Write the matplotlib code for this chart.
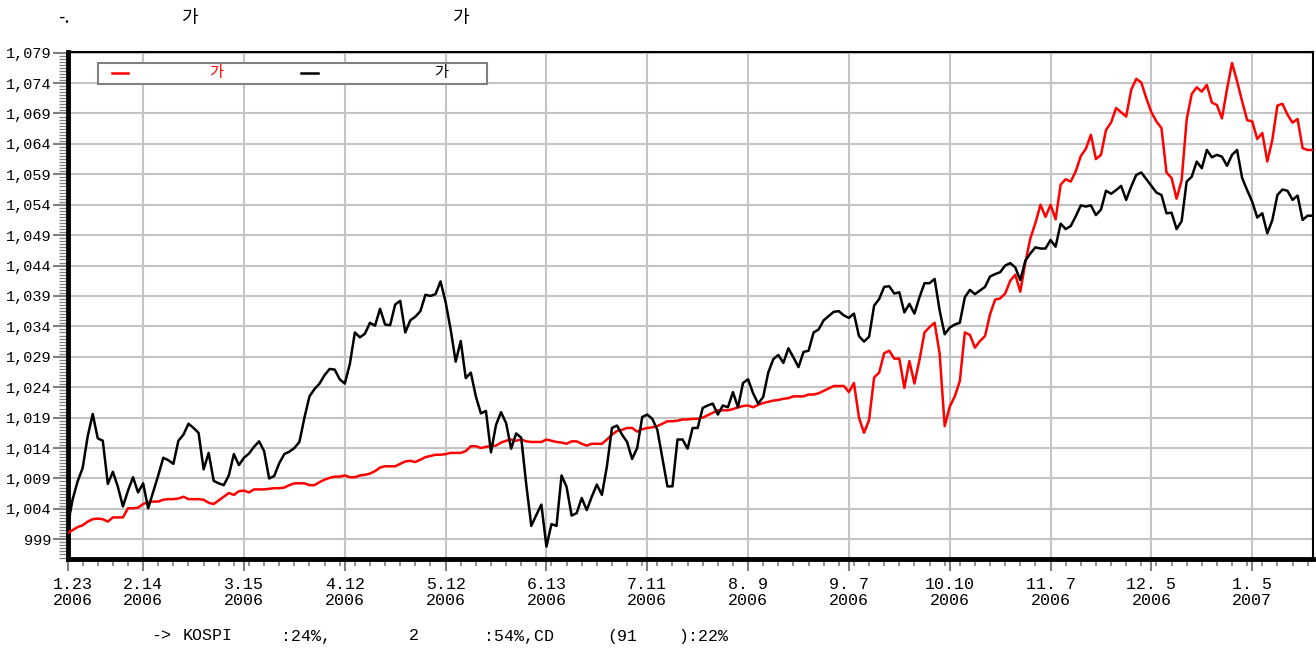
import matplotlib
matplotlib.use('Agg')
import matplotlib.pyplot as plt
from matplotlib import font_manager
from matplotlib.ticker import FixedLocator, MultipleLocator, FuncFormatter
from matplotlib.patches import Rectangle
from matplotlib.lines import Line2D
from matplotlib.transforms import ScaledTranslation
import numpy as np

# benchmark index (red) and fund (black), daily, 2006-01-23 .. 2007-01
red_vals = [
    1000.0, 1000.5, 1001.0, 1001.3, 1001.9, 1002.3, 1002.4, 1002.3, 1001.9, 1002.6,
    1002.6, 1002.6, 1004.1, 1004.1, 1004.2, 1004.8, 1005.1, 1005.2, 1005.2, 1005.5,
    1005.6, 1005.6, 1005.7, 1006.0, 1005.6, 1005.6, 1005.6, 1005.5, 1005.0, 1004.8,
    1005.4, 1006.0, 1006.6, 1006.3, 1006.9, 1007.0, 1006.7, 1007.2, 1007.2, 1007.2,
    1007.3, 1007.4, 1007.4, 1007.5, 1007.9, 1008.2, 1008.2, 1008.2, 1007.9, 1007.9,
    1008.4, 1008.8, 1009.1, 1009.3, 1009.3, 1009.5, 1009.2, 1009.2, 1009.5, 1009.6,
    1009.8, 1010.2, 1010.8, 1011.0, 1011.0, 1011.0, 1011.4, 1011.8, 1011.9, 1011.7,
    1012.1, 1012.5, 1012.7, 1012.9, 1012.9, 1013.0, 1013.2, 1013.2, 1013.2, 1013.5,
    1014.3, 1014.3, 1014.0, 1014.2, 1014.3, 1014.4, 1014.9, 1015.2, 1015.4, 1015.2,
    1015.4, 1015.1, 1015.0, 1015.0, 1015.0, 1015.4, 1015.2, 1015.0, 1014.9, 1014.7,
    1015.1, 1015.1, 1014.7, 1014.4, 1014.7, 1014.7, 1014.7, 1015.4, 1016.2, 1016.8,
    1017.0, 1017.3, 1017.3, 1016.7, 1017.1, 1017.3, 1017.4, 1017.6, 1018.0, 1018.4,
    1018.4, 1018.5, 1018.7, 1018.7, 1018.8, 1018.8, 1019.0, 1019.4, 1019.8, 1020.2,
    1020.2, 1020.2, 1020.4, 1020.7, 1020.9, 1021.0, 1020.7, 1021.1, 1021.4, 1021.6,
    1021.8, 1021.9, 1022.1, 1022.2, 1022.5, 1022.5, 1022.5, 1022.8, 1022.8, 1023.0,
    1023.4, 1023.8, 1024.2, 1024.2, 1024.2, 1023.2, 1024.7, 1019.0, 1016.5, 1018.6,
    1025.6, 1026.4, 1029.6, 1030.0, 1028.7, 1028.7, 1023.9, 1028.3, 1024.6, 1028.5,
    1033.0, 1033.9, 1034.6, 1029.5, 1017.6, 1020.8, 1022.5, 1025.0, 1033.0, 1032.6,
    1030.5, 1031.6, 1032.4, 1036.0, 1038.4, 1038.6, 1039.4, 1041.5, 1042.5, 1039.7,
    1044.5, 1048.5, 1051.0, 1054.0, 1052.0, 1054.0, 1051.6, 1057.3, 1058.2, 1057.8,
    1059.5, 1062.0, 1063.2, 1065.5, 1061.5, 1062.2, 1066.3, 1067.5, 1069.9, 1069.2,
    1068.5, 1072.9, 1074.7, 1074.1, 1071.5, 1069.2, 1067.7, 1066.6, 1059.3, 1058.4,
    1055.0, 1058.0, 1068.0, 1072.2, 1073.3, 1072.6, 1073.7, 1070.8, 1070.4, 1068.2,
    1073.0, 1077.3, 1074.3, 1071.0, 1067.9, 1067.7, 1064.8, 1065.8, 1061.1, 1064.7,
    1070.3, 1070.6, 1068.8, 1067.5, 1068.1, 1063.3, 1063.0, 1063.0,
]

black_vals = [
    1001.0, 1005.5, 1008.5, 1010.7, 1015.9, 1019.6, 1015.6, 1015.2, 1008.1, 1010.1,
    1007.6, 1004.4, 1007.0, 1009.2, 1006.7, 1008.2, 1004.1, 1006.8, 1009.5, 1012.4,
    1012.0, 1011.4, 1015.2, 1016.2, 1018.0, 1017.3, 1016.5, 1010.5, 1013.2, 1008.6,
    1008.2, 1007.9, 1009.5, 1013.0, 1011.2, 1012.4, 1013.1, 1014.2, 1015.1, 1013.5,
    1009.0, 1009.4, 1011.5, 1013.0, 1013.4, 1014.0, 1015.0, 1019.0, 1022.5, 1023.7,
    1024.6, 1026.0, 1027.0, 1026.9, 1025.3, 1024.6, 1027.8, 1033.0, 1032.2, 1032.8,
    1034.6, 1034.1, 1036.9, 1034.3, 1034.2, 1037.6, 1038.2, 1033.0, 1035.0, 1035.6,
    1036.5, 1039.2, 1039.0, 1039.3, 1041.4, 1038.0, 1033.5, 1028.2, 1031.6, 1025.5,
    1026.4, 1022.5, 1019.7, 1020.1, 1013.3, 1017.8, 1019.9, 1018.1, 1013.9, 1016.4,
    1015.7, 1008.0, 1001.2, 1003.0, 1004.7, 997.8, 1001.5, 1001.2, 1009.5, 1007.6,
    1002.9, 1003.3, 1005.8, 1003.8, 1006.0, 1008.0, 1006.3, 1011.0, 1017.3, 1017.7,
    1016.2, 1015.0, 1012.2, 1014.0, 1019.1, 1019.5, 1018.8, 1017.0, 1012.4, 1007.7,
    1007.7, 1015.4, 1015.4, 1013.9, 1017.3, 1017.3, 1020.6, 1021.0, 1021.3, 1019.5,
    1021.0, 1020.7, 1023.2, 1020.7, 1024.7, 1025.3, 1023.0, 1021.3, 1022.4, 1026.4,
    1028.6, 1029.3, 1028.0, 1030.4, 1028.9, 1027.3, 1029.8, 1030.0, 1033.0, 1033.5,
    1035.0, 1035.7, 1036.4, 1036.5, 1035.8, 1035.4, 1036.1, 1032.4, 1031.5, 1032.3,
    1037.4, 1038.5, 1040.5, 1040.6, 1039.4, 1039.6, 1036.3, 1037.7, 1036.1, 1038.8,
    1041.1, 1041.1, 1041.8, 1036.6, 1032.7, 1033.8, 1034.3, 1034.6, 1038.8, 1040.0,
    1039.3, 1039.9, 1040.5, 1042.2, 1042.6, 1042.9, 1044.0, 1044.4, 1043.7, 1041.6,
    1044.8, 1046.0, 1047.0, 1046.8, 1046.8, 1048.2, 1047.1, 1050.9, 1050.0, 1050.5,
    1052.1, 1053.9, 1053.7, 1053.9, 1052.3, 1053.2, 1056.3, 1055.8, 1056.4, 1057.1,
    1054.8, 1057.0, 1058.9, 1059.3, 1058.2, 1057.1, 1056.0, 1055.6, 1052.6, 1052.7,
    1050.0, 1051.3, 1057.8, 1058.6, 1061.1, 1060.0, 1063.0, 1061.8, 1062.2, 1061.9,
    1060.4, 1062.2, 1063.0, 1058.4, 1056.4, 1054.5, 1051.9, 1052.6, 1049.3, 1051.5,
    1055.6, 1056.5, 1056.3, 1054.8, 1055.5, 1051.5, 1052.2, 1052.2,
]

# labelled trading days (index into the series) and their labels
tick_idx = [0, 15, 35, 55, 75, 95, 115, 135, 155, 175, 195, 215, 235]
tick_labels = ['1.23\n2006', '2.14\n2006', '3.15\n2006', '4.12\n2006', '5.12\n2006',
               '6.13\n2006', '7.11\n2006', '8. 9\n2006', '9. 7\n2006', '10.10\n2006',
               '11. 7\n2006', '12. 5\n2006', '1. 5\n2007']
y_ticks = list(range(999, 1080, 5))

installed = {f.name for f in font_manager.fontManager.ttflist}
num_font = 'Liberation Mono' if 'Liberation Mono' in installed else 'DejaVu Sans Mono'
kr_font = ['Noto Sans CJK KR', 'DejaVu Sans']

W, H = 1316, 653
fig = plt.figure(figsize=(W / 100, H / 100), dpi=100)
ax_l, ax_r, ax_t, ax_b = 67.5, 1312.7, 51.7, 558.5
ax = fig.add_axes([ax_l / W, 1 - ax_b / H, (ax_r - ax_l) / W, (ax_b - ax_t) / H])

x = np.arange(len(red_vals))
ax.plot(x, red_vals, color='#ff0000', lw=1.8, zorder=3)
ax.plot(x, black_vals, color='black', lw=1.8, zorder=3)

ax.set_xlim(0, len(red_vals) - 1)
ax.set_ylim(995.84, 1079.16)

ax.xaxis.set_major_locator(FixedLocator(tick_idx))
ax.set_xticklabels(tick_labels, fontfamily=num_font, fontsize=12, linespacing=1.1)
ax.xaxis.set_minor_locator(MultipleLocator(3))
ax.yaxis.set_major_locator(FixedLocator(y_ticks))
ax.yaxis.set_major_formatter(FuncFormatter(lambda v, p: '{:,.0f}'.format(v)))
ax.yaxis.set_minor_locator(MultipleLocator(0.5))
for lab in ax.get_yticklabels():
    lab.set_fontfamily(num_font)
    lab.set_fontsize(11)

ax.tick_params(axis='x', which='major', length=8.5, width=1.5, color='#808080', pad=5)
ax.tick_params(axis='x', which='minor', length=5, width=1.2, color='#808080')
ax.tick_params(axis='y', which='major', length=10.5, width=1.5, color='#808080', pad=1)
ax.tick_params(axis='y', which='minor', length=6.5, width=0.9, color='#808080')

# first date label sits a little right of its tick
first = ax.get_xticklabels()[0]
first.set_transform(first.get_transform() + ScaledTranslation(5 / 100, 0, fig.dpi_scale_trans))

ax.grid(True, which='major', color='#c4c4c4', lw=1.5)
ax.set_axisbelow(True)
for side in ['left', 'bottom']:
    ax.spines[side].set_linewidth(3.5)
for side in ['top', 'right']:
    ax.spines[side].set_linewidth(1.5)

# legend box (labels partly lost glyphs in the source)
def ax_xy(px, py):
    return (px - ax_l) / (ax_r - ax_l), (ax_b - py) / (ax_b - ax_t)

x0, y0 = ax_xy(98, 83.5)
x1, y1 = ax_xy(487, 62.5)
ax.add_patch(Rectangle((x0, y0), x1 - x0, y1 - y0, transform=ax.transAxes,
                       facecolor='white', edgecolor='#808080', lw=1.5, zorder=5))
ly = ax_xy(0, 72.7)[1]
for (a, b), col, tx in [((111.5, 128.4), '#ff0000', 216.5), ((301, 318), 'black', 441.5)]:
    ax.add_line(Line2D([ax_xy(a, 0)[0], ax_xy(b, 0)[0]], [ly, ly], transform=ax.transAxes,
                       color=col, lw=1.8, zorder=6))
    ax.text(ax_xy(tx, 0)[0], ly, '가', transform=ax.transAxes, color=col,
            fontfamily=kr_font, fontsize=11, ha='center', va='center', zorder=6)

# title fragments
for px, s in [(58, '-.'), (181, '가'), (452, '가')]:
    fig.text(px / W, 1 - 18 / H, s, fontfamily=kr_font, fontsize=13, ha='left', va='center')

# footnote fragments
for px, s in [(151, '->'), (183, 'KOSPI'), (281, ':24%,'), (409, '2'),
              (484, ':54%,CD'), (607, '(91'), (678, '):22%')]:
    fig.text(px / W, 1 - 636 / H, s, fontfamily=num_font, fontsize=12, ha='left', va='center')

plt.savefig('out.png', dpi=100)
